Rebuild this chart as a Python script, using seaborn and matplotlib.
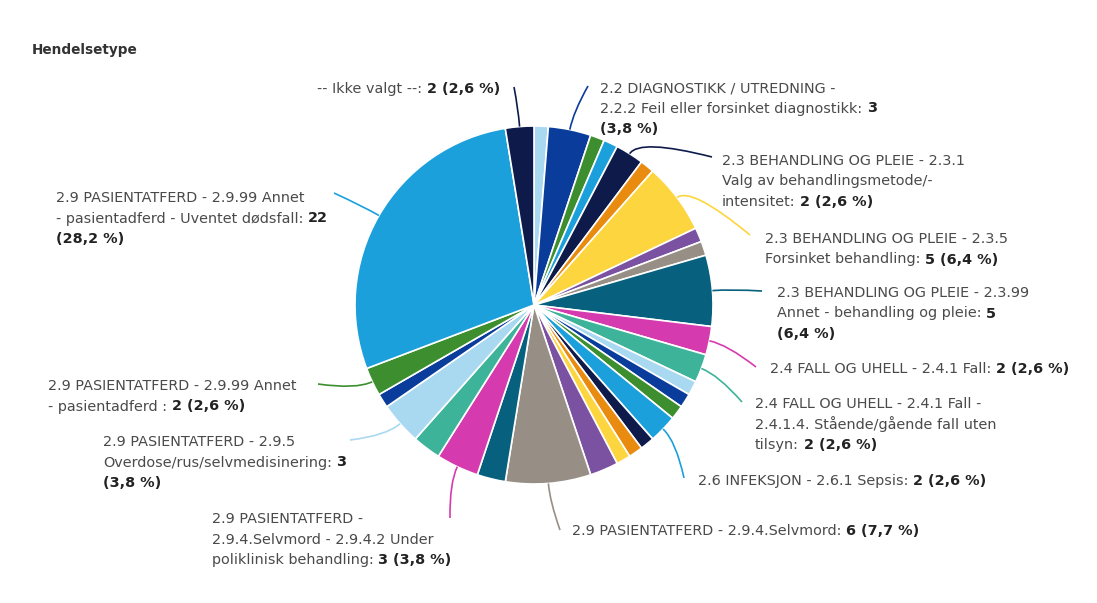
import re

import matplotlib
matplotlib.use("Agg")
import matplotlib.pyplot as plt
import numpy as np
import seaborn as sns
from matplotlib.font_manager import FontProperties
from matplotlib.patches import PathPatch
from matplotlib.path import Path

# canvas size in pixels (axes units == pixels, y pointing down)
W, H = 1097, 603

title = "Hendelsetype"

# slices in drawing order, clockwise from 12 o'clock (None = no visible label)
categories = [
    None,
    "2.2 DIAGNOSTIKK / UTREDNING - 2.2.2 Feil eller forsinket diagnostikk",
    None,
    None,
    "2.3 BEHANDLING OG PLEIE - 2.3.1 Valg av behandlingsmetode/-intensitet",
    None,
    "2.3 BEHANDLING OG PLEIE - 2.3.5 Forsinket behandling",
    None,
    None,
    "2.3 BEHANDLING OG PLEIE - 2.3.99 Annet - behandling og pleie",
    "2.4 FALL OG UHELL - 2.4.1 Fall",
    "2.4 FALL OG UHELL - 2.4.1 Fall - 2.4.1.4. Stående/gående fall uten tilsyn",
    None,
    None,
    None,
    "2.6 INFEKSJON - 2.6.1 Sepsis",
    None,
    None,
    None,
    None,
    "2.9 PASIENTATFERD - 2.9.4.Selvmord",
    None,
    "2.9 PASIENTATFERD - 2.9.4.Selvmord - 2.9.4.2 Under poliklinisk behandling",
    None,
    "2.9 PASIENTATFERD - 2.9.5 Overdose/rus/selvmedisinering",
    None,
    "2.9 PASIENTATFERD - 2.9.99 Annet - pasientadferd ",
    "2.9 PASIENTATFERD - 2.9.99 Annet - pasientadferd - Uventet dødsfall",
    "-- Ikke valgt --",
]
counts = [1, 3, 1, 1, 2, 1, 5, 1, 1, 5, 2, 2, 1, 1, 1, 2, 1, 1, 1, 2,
          6, 2, 3, 2, 3, 1, 2, 22, 2]

palette_hex = ["#A9D9F1", "#0A3C9C", "#3C8E2F", "#1BA0DB", "#0E1B4A", "#E98B0E",
               "#FDD53E", "#7B52A1", "#978F86", "#06607E", "#D53BAE", "#3DB39A"]

# label placement: first line centre (x, y), words per line before the last
# line, connector end point
label_layout = {
    28: dict(x=500, y=88, ha="right", breaks=[], end=(514, 87)),
    1: dict(x=600, y=87, ha="left", breaks=[5, 6], end=(588, 86)),
    4: dict(x=722, y=160, ha="left", breaks=[6, 3], end=(712, 157)),
    6: dict(x=765, y=238, ha="left", breaks=[6], end=(750, 235)),
    9: dict(x=777, y=292, ha="left", breaks=[6, 6], end=(762, 291)),
    10: dict(x=770, y=368, ha="left", breaks=[], end=(756, 367)),
    11: dict(x=755, y=403, ha="left", breaks=[8, 4], end=(742, 402)),
    15: dict(x=698, y=480, ha="left", breaks=[], end=(684, 478)),
    20: dict(x=572, y=530, ha="left", breaks=[], end=(560, 530)),
    22: dict(x=212, y=518, ha="left", breaks=[3, 4], end=(450, 518)),
    24: dict(x=103, y=441, ha="left", breaks=[4, 2], end=(350, 440)),
    26: dict(x=48, y=385, ha="left", breaks=[5], end=(318, 384)),
    27: dict(x=56, y=197, ha="left", breaks=[5, 6], end=(334, 193)),
}

CX, CY, R = 534, 305, 179
LINE_H = 20.5
FONT = ["DejaVu Sans"]
FS = 10.4

sns.set_theme(style="white")
plt.rcParams["font.family"] = FONT

colors = sns.color_palette([palette_hex[i % len(palette_hex)] for i in range(len(counts))])

fig = plt.figure(figsize=(W / 100, H / 100), dpi=100)
ax = fig.add_axes([0, 0, 1, 1])

wedges, _ = ax.pie(counts, colors=colors, center=(CX, CY), radius=R,
                   startangle=-90, counterclock=True,
                   wedgeprops=dict(edgecolor="white", linewidth=1.2))
ax.set_xlim(0, W)
ax.set_ylim(H, 0)
ax.set_aspect("auto")
ax.axis("off")

renderer = fig.canvas.get_renderer()
reg = FontProperties(family=FONT, size=FS)
bld = FontProperties(family=FONT, size=FS, weight="bold")


def text_w(s, prop):
    w, _, _ = renderer.get_text_width_height_descent(s, prop, ismath=False)
    return w


SPACE = text_w("a a", reg) - text_w("aa", reg)
total = sum(counts)


def make_tokens(cat, val):
    toks = []
    for word in (cat + ":").split():
        parts = re.split(r"(?<=-)(?=\w)", word)
        for k, p in enumerate(parts):
            toks.append((p, False, k == len(parts) - 1))
    pct = f"{val / total * 100:.1f}".replace(".", ",")
    toks.append((str(val), True, True))
    toks.append((f"({pct} %)", True, False))
    return toks


def split_lines(toks, breaks):
    lines, pos = [], 0
    for n in breaks:
        lines.append(toks[pos:pos + n])
        pos += n
    lines.append(toks[pos:])
    return lines


def runs(line):
    # group consecutive tokens with the same weight
    out = []
    for t, b, sp in line:
        if out and out[-1][1] == b:
            prev = out[-1]
            out[-1] = [prev[0] + (" " if prev[2] else "") + t, b, sp]
        else:
            out.append([t, b, sp])
    return out


def line_width(rs):
    w = 0
    for k, (t, b, sp) in enumerate(rs):
        w += text_w(t, bld if b else reg)
        if k < len(rs) - 1 and sp:
            w += SPACE
    return w


for i, lay in label_layout.items():
    wedge = wedges[i]
    col = colors[i]

    # connector from slice edge to label
    th = np.deg2rad((wedge.theta1 + wedge.theta2) / 2)
    a = (CX + R * np.cos(th), CY + R * np.sin(th))
    c = (CX + (R + 18) * np.cos(th), CY + (R + 18) * np.sin(th))
    path = Path([a, c, lay["end"]], [Path.MOVETO, Path.CURVE3, Path.CURVE3])
    ax.add_patch(PathPatch(path, fc="none", ec=col, lw=1.2))

    lines = split_lines(make_tokens(categories[i], counts[i]), lay["breaks"])
    for n, line in enumerate(lines):
        rs = runs(line)
        y = lay["y"] + n * LINE_H + 5
        x = lay["x"] - line_width(rs) if lay["ha"] == "right" else lay["x"]
        for t, b, sp in rs:
            prop = bld if b else reg
            ax.text(x, y, t, fontproperties=prop, va="baseline", ha="left",
                    color="#222222" if b else "#4a4a4a")
            x += text_w(t, prop) + (SPACE if sp else 0)

ax.text(32, 50, title, fontsize=9.8, fontweight="bold", va="center",
        ha="left", color="#333333")

fig.savefig("out.png", dpi=100)
